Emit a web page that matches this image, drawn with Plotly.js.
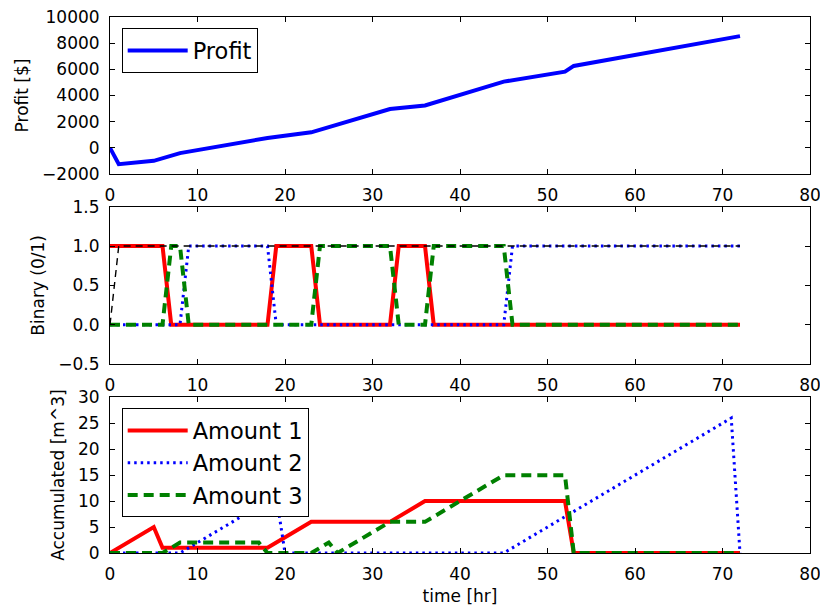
<!DOCTYPE html>
<html>
<head>
<meta charset="utf-8">
<script src="https://cdn.plot.ly/plotly-3.0.1.min.js"></script>
<style>html,body{margin:0;padding:0;background:#fff;}#chart{width:820px;height:611px;}</style>
</head>
<body>
<div id="chart"></div>
<script>
// ---- Data ----
const profitTime = [0, 1, 5, 8, 18, 23, 32, 36, 45, 52, 53, 72];
const profitValues = [0, -1250, -990, -400, 760, 1190, 2970, 3240, 5060, 5820, 6260, 8540];

const bin1Time = [0, 6, 7, 18, 19, 23, 24, 32, 33, 36, 37, 72];
const bin1Values = [1, 1, 0, 0, 1, 1, 0, 0, 1, 1, 0, 0];
const bin2Time = [0, 8, 9, 18, 19, 45, 46, 72];
const bin2Values = [0, 0, 1, 1, 0, 0, 1, 1];
const bin3Time = [0, 6, 7, 8, 9, 23, 24, 32, 33, 36, 37, 45, 46, 72];
const bin3Values = [0, 0, 1, 1, 0, 0, 1, 1, 0, 0, 1, 1, 0, 0];
const binSumTime = [0, 1, 72];
const binSumValues = [0, 1, 1];

const amt1Time = [0, 5, 6, 18, 23, 32, 36, 52, 53, 72];
const amt1Values = [0, 5, 1, 1, 6, 6, 10, 10, 0, 0];
const amt2Time = [0, 8, 19, 20, 45, 71, 72];
const amt2Values = [0, 0, 11, 0, 0, 26, 0];
const amt3Time = [0, 6, 8, 17, 18, 23, 25, 26, 32, 36, 45, 52, 53, 72];
const amt3Values = [0, 0, 2, 2, 0, 0, 2, 0, 6, 6, 15, 15, 0, 0];

const seriesNames = ['Profit', 'Amount 1', 'Amount 2', 'Amount 3'];
const xTicks = [0, 10, 20, 30, 40, 50, 60, 70, 80];
const profitTicks = [-2000, 0, 2000, 4000, 6000, 8000, 10000];
const binTicks = [-0.5, 0, 0.5, 1, 1.5];
const amtTicks = [0, 5, 10, 15, 20, 25, 30];

// ---- Styles ----
const RED = '#ff0000', BLUE = '#0000ff', GREEN = '#008000';
const FONT = 'DejaVu Sans, sans-serif';
const solid = (c, w) => ({color: c, width: w});
const dotted = {color: BLUE, width: 3, dash: '2.5px,4px'};
const dashed = {color: GREEN, width: 4, dash: '10px,6px'};
const thinDash = {color: '#000000', width: 1.4, dash: '7px,5px'};

const traces = [
  {x: profitTime, y: profitValues, name: seriesNames[0], mode: 'lines', line: solid(BLUE, 4), xaxis: 'x', yaxis: 'y', legend: 'legend'},

  {x: bin1Time, y: bin1Values, mode: 'lines', line: solid(RED, 4), xaxis: 'x2', yaxis: 'y2', showlegend: false},
  {x: bin2Time, y: bin2Values, mode: 'lines', line: dotted, xaxis: 'x2', yaxis: 'y2', showlegend: false},
  {x: bin3Time, y: bin3Values, mode: 'lines', line: dashed, xaxis: 'x2', yaxis: 'y2', showlegend: false},
  {x: binSumTime, y: binSumValues, mode: 'lines', line: thinDash, xaxis: 'x2', yaxis: 'y2', showlegend: false},

  {x: amt1Time, y: amt1Values, name: seriesNames[1], mode: 'lines', line: solid(RED, 4), xaxis: 'x3', yaxis: 'y3', legend: 'legend2'},
  {x: amt2Time, y: amt2Values, name: seriesNames[2], mode: 'lines', line: dotted, xaxis: 'x3', yaxis: 'y3', legend: 'legend2'},
  {x: amt3Time, y: amt3Values, name: seriesNames[3], mode: 'lines', line: dashed, xaxis: 'x3', yaxis: 'y3', legend: 'legend2'}
];

const axisBase = {
  showline: true, linecolor: '#000', linewidth: 1, mirror: 'allticks',
  ticks: 'inside', ticklen: 5, tickwidth: 1, tickcolor: '#000',
  showgrid: false, zeroline: false, tickfont: {family: FONT, size: 17, color: '#000'},
  ticklabelstandoff: 6, ticklabeloverflow: 'allow'
};
const xAxis = (anchor, extra) => Object.assign({}, axisBase, {anchor: anchor, range: [0, 80], tickmode: 'array', tickvals: xTicks, ticktext: xTicks.map(String)}, extra || {});
const yAxis = (anchor, domain, range, ticks, title, fmt) => Object.assign({}, axisBase, {
  anchor: anchor, domain: domain, range: range, tickmode: 'array', tickvals: ticks, tickformat: fmt,
  title: {text: title, font: {family: FONT, size: 17, color: '#000'}, standoff: 9}
});

const legendBase = {
  bgcolor: '#ffffff', bordercolor: '#000000', borderwidth: 1,
  font: {family: FONT, size: 22.5, color: '#000'}, xanchor: 'left', yanchor: 'top', itemwidth: 60,
  tracegroupgap: 0
};

const layout = {
  width: 820, height: 611,
  margin: {l: 110, r: 10, t: 17, b: 58},
  paper_bgcolor: '#ffffff', plot_bgcolor: '#ffffff',
  font: {family: FONT, color: '#000'},
  xaxis: xAxis('y'),
  xaxis2: xAxis('y2'),
  xaxis3: xAxis('y3', {title: {text: 'time [hr]', font: {family: FONT, size: 17, color: '#000'}, standoff: 6}}),
  yaxis: yAxis('x', [0.707, 1.0], [-2000, 10000], profitTicks, 'Profit [$]', 'd'),
  yaxis2: yAxis('x2', [0.3526, 0.646], [-0.5, 1.5], binTicks, 'Binary (0/1)', '.1f'),
  yaxis3: yAxis('x3', [0, 0.2905], [0, 30], amtTicks, 'Accumulated [m^3]', 'd'),
  legend: Object.assign({}, legendBase, {x: 0.0167, y: 0.979}),
  legend2: Object.assign({}, legendBase, {x: 0.0167, y: 0.27}),
  showlegend: true
};

Plotly.newPlot('chart', traces, layout, {staticPlot: true, displayModeBar: false});
</script>
</body>
</html>
